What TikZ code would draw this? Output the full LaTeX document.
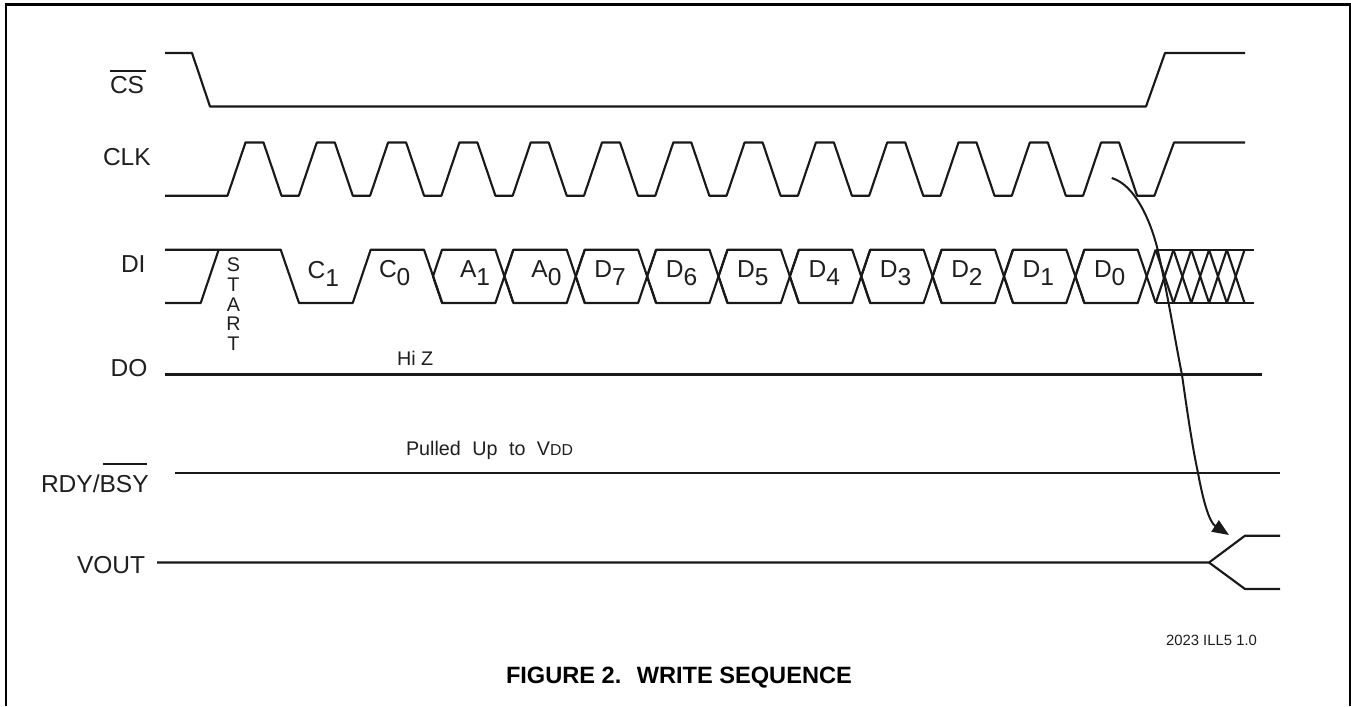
\documentclass[tikz,border=0pt]{standalone}
\usepackage{fontspec}
\setmainfont{Liberation Sans}
\usetikzlibrary{arrows.meta}
\newcommand{\sublab}[2]{#1\lower 6.6pt\hbox{#2}}
\tikzset{
  x=0.75pt,y=-0.75pt,
  wave/.style={draw=black!90,line width=1.6pt,line join=round},
  frameline/.style={draw=black,line width=1.9pt},
  lab/.style={anchor=base west,inner sep=0pt,outer sep=0pt,text=black!88},
  big/.style={lab,font=\fontsize{18.4pt}{20pt}\selectfont},
  mid/.style={lab,font=\fontsize{14.8pt}{16pt}\selectfont},
  small/.style={lab,font=\fontsize{11.15pt}{14pt}\selectfont},
  titlelab/.style={lab,text=black,font=\fontsize{17.7pt}{19pt}\selectfont\bfseries},
  barline/.style={draw=black!90,line width=1.6pt},
  flowarrow/.style={draw=black!90,line width=1.5pt,-{Triangle[length=12.5pt,width=10pt]}},
}
\begin{document}
\begin{tikzpicture}
\useasboundingbox (0,0) rectangle (1351,706);
\fill[white] (0,0) rectangle (1351,706);
\draw[frameline] (6,706) -- (6,4.5) -- (1350,4.5) -- (1350,706);
% CS
\draw[wave] (165,53) -- (192,53) -- (210,106.5) -- (1146,106.5) -- (1165,53) -- (1245,53);
% CLK
\draw[wave] (165,195.7) -- (227.5,195.7)
  \foreach \k in {0,...,12} {
    -- ({227.5+71.3*\k+18},142.5) -- ({227.5+71.3*\k+36},142.5)
    -- ({227.5+71.3*\k+54},195.7) -- ({227.5+71.3*\k+71.3},195.7)
  }
  -- (1174,142.5) -- (1245,142.5);
% DI
\draw[wave] (165,303) -- (200.7,303) -- (218.7,249.7);
\draw[wave] (165,249.7) -- (280.7,249.7) -- (299,303) -- (352.7,303) -- (370.7,249.7) -- (424,249.7) -- (442.3,303);
\foreach \k in {0,...,9} {
  \pgfmathsetmacro{\c}{433+71.37*\k}
  \pgfmathsetmacro{\cc}{\c+71.37}
  \draw[wave] (\c,276.4) -- ({\c+9},249.7) -- ({\cc-9},249.7) -- ({\cc+9},303);
  \draw[wave] (\c,276.4) -- ({\c+9},303) -- ({\cc-9},303) -- ({\cc+9},249.7);
}
\draw[wave] (1155.7,249.7) -- (1253.7,249.7);
\draw[wave] (1155.7,303) -- (1253.7,303);
\foreach \k in {0,...,4} {
  \pgfmathsetmacro{\a}{1155.7+17.78*\k}
  \draw[wave] (\a,249.7) -- ({\a+17.78},303);
  \draw[wave] (\a,303) -- ({\a+17.78},249.7);
}
% DO, RDY, VOUT
\draw[wave] (165,374.5) -- (1262,374.5);
\draw[wave] (174.5,473) -- (1280,473);
\draw[wave] (157,562.5) -- (1209,562.5) -- (1245,535.7) -- (1280,535.7);
\draw[wave] (1209,562.5) -- (1245,589) -- (1280,589);
% arrow
\coordinate (arrowstart) at (1111.7,178);
\coordinate (arrowtip) at (1229,535);
\draw[flowarrow] (arrowstart) .. controls (1135,185) and (1150,220) .. (1157,247)
  .. controls (1167,290) and (1175,340) .. (1182,375)
  .. controls (1187,410) and (1192,445) .. (1198,473)
  .. controls (1203,500) and (1209,522) .. (arrowtip);
% labels
\node[big] (cs) at (110,94) {CS};
\draw[barline] (110,70.7) -- (146,70.7);
\node[big] (clk) at (103,165.7) {CLK};
\node[big] (di) at (121,272.7) {DI};
\node[big] (do) at (110.7,376.7) {DO};
\node[big] (rdy) at (41,492.7) {RDY/BSY};
\draw[barline] (103,464) -- (147,464);
\node[big] (vout) at (77,573) {VOUT};
\node[mid] (hiz) at (397,365.7) {Hi Z};
\node[mid] (pull) at (406,455) {Pulled\hspace{4.5pt} Up\hspace{4.5pt} to\hspace{4.5pt} V{\fontsize{11.85pt}{14pt}\selectfont DD}};
\foreach \n/\t/\y in {s/S/271.7,t/T/291,a/A/311,r/R/330.7,tt/T/350.7} {
  \node[mid,anchor=base] (\n) at (233.5,\y) {\t};
}
\node[big] (c1) at (307.7,278) {\sublab{C}{1}};
\node[big] (c0) at (379,277) {\sublab{C}{0}};
\node[big] (a1) at (460,277) {\sublab{A}{1}};
\node[big] (a0) at (531.4,277) {\sublab{A}{0}};
\foreach \n/\s/\xx in {7/7/0,6/6/1,5/5/2,4/4/3,3/3/4,2/2/5,1/1/6,0/0/7} {
  \node[big] (d\n) at ({1094-71.37*(7-\xx)},277) {\sublab{D}{\s}};
}
\node[small] (ill) at (1166,645.7) {2023 ILL5 1.0};
\node[titlelab] (fig) at (506,683.3) {FIGURE 2.\hspace{5pt} WRITE SEQUENCE};
\end{tikzpicture}
\end{document}
